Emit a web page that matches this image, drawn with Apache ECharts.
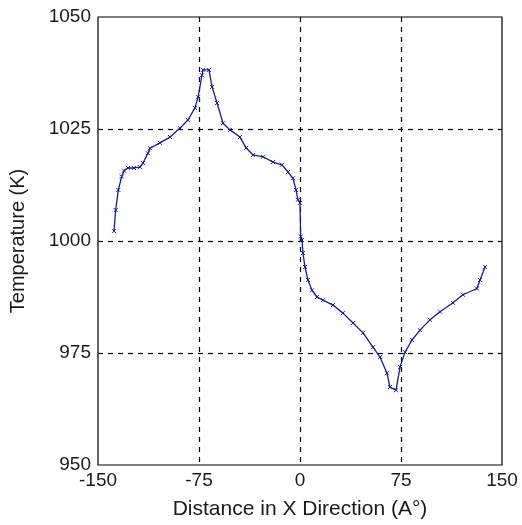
<!DOCTYPE html>
<html><head><meta charset="utf-8">
<script src="https://cdn.jsdelivr.net/npm/echarts@6/dist/echarts.min.js"></script>
<style>html,body{margin:0;padding:0;background:#fff}#c{width:522px;height:525px}</style>
</head><body><div id="c"></div>
<script>
var xTicks = [-150, -75, 0, 75, 150];
var yTicks = [950, 975, 1000, 1025, 1050];
var distance = [-138.1,-136.9,-134.9,-132.4,-130.7,-127.7,-123.3,-118.8,-116.6,-112.9,-111.4,-104,-96.5,-89.1,-83.2,-78,-75.7,-72.8,-72,-67.6,-65.3,-61.6,-57.2,-52,-44.6,-40,-34.9,-27.5,-20,-13.4,-8.9,-5.2,-3,-1.5,0,0.5,1.5,2.2,3.7,5.9,8.9,12.6,17.1,24.5,31.9,39.4,46.8,54.2,59.4,64.6,66.8,71.3,74.3,78,83.2,89.1,96.5,104,113.6,121,131.4,133.7,137.4];
var temperature = [1002.2,1006.9,1011.4,1014.4,1015.7,1016.3,1016.3,1016.5,1017.4,1019.6,1020.7,1021.9,1023.2,1025.2,1027,1029.7,1032.1,1037,1038.2,1038.2,1034.4,1030.8,1026.3,1024.8,1023.2,1020.8,1019.2,1018.8,1017.6,1017,1015.4,1014,1011.4,1009.2,1008.5,1001,1000.2,997.3,994.2,991.3,989,987.5,986.8,985.7,983.9,981.7,979.5,976.3,974.1,970.5,967.4,966.7,971.9,975.2,977.9,980.1,982.4,984.2,986.2,988,989.4,991.3,994.2];

var data = distance.map(function(x,i){return [x, temperature[i]];});
var chart = echarts.init(document.getElementById('c'));
var font = 'Liberation Sans, Arial, sans-serif';
chart.setOption({
  animation:false,
  backgroundColor:'#fff',
  grid:{left:98,right:20,top:17,bottom:60,show:true,borderColor:'#000',borderWidth:1.2},
  xAxis:{type:'value',min:-150,max:150,interval:75,
    name:'Distance in X Direction (A°)',nameLocation:'middle',nameGap:34,
    nameTextStyle:{fontFamily:font,fontSize:21,color:'#1a1a1a'},
    axisLine:{show:false},axisTick:{show:false},
    axisLabel:{fontFamily:font,fontSize:19,color:'#1a1a1a',margin:6,
      formatter:function(v){return xTicks.indexOf(v)>=0?String(v):'';}},
    splitLine:{show:true,showMinLine:false,showMaxLine:false,lineStyle:{color:'#000',type:[5,5],width:1.2}}},
  yAxis:{type:'value',min:950,max:1050,interval:25,
    name:'Temperature (K)',nameLocation:'middle',nameGap:70,
    nameTextStyle:{fontFamily:font,fontSize:20,color:'#1a1a1a'},
    axisLine:{show:false},axisTick:{show:false},
    axisLabel:{fontFamily:font,fontSize:19,color:'#1a1a1a',margin:7,
      formatter:function(v){return yTicks.indexOf(v)>=0?String(v):'';}},
    splitLine:{show:true,showMinLine:false,showMaxLine:false,lineStyle:{color:'#000',type:[5,5],width:1.2}}},
  series:[{type:'line',data:data,
    lineStyle:{color:'#1c1c8a',width:1.3},
    symbol:'path://M0,0L4,4M0,4L4,0',symbolSize:4,showSymbol:true,
    itemStyle:{color:'transparent',borderColor:'#1c1c8a',borderWidth:1}}]
});
</script></body></html>
